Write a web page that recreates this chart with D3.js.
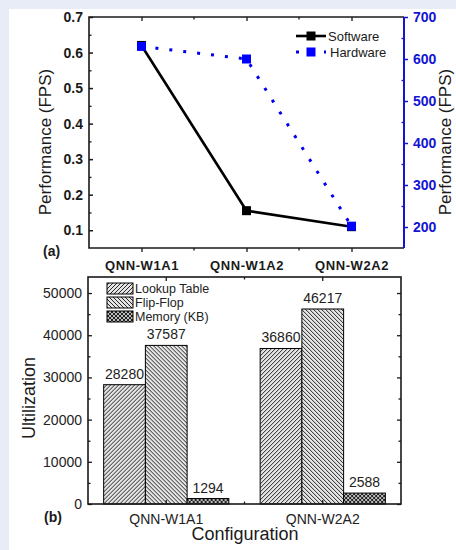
<!DOCTYPE html>
<html>
<head>
<meta charset="utf-8">
<script src="https://cdn.jsdelivr.net/npm/d3@7"></script>
<style>
  body { margin: 0; background: #e8ecf6; }
  svg { display: block; font-family: Arial, "Liberation Sans", sans-serif; }
</style>
</head>
<body>
<div id="chart"></div>
<script>
// ---- data ----
var configs = ["QNN-W1A1", "QNN-W1A2", "QNN-W2A2"];
var software = [0.62, 0.155, 0.11];   // FPS, left axis
var hardware = [630, 600, 202];       // FPS, right axis
var perfTicksL = [0.1, 0.2, 0.3, 0.4, 0.5, 0.6, 0.7];
var perfTicksR = [200, 300, 400, 500, 600, 700];

var utilConfigs = ["QNN-W1A1", "QNN-W2A2"];
var utilSeries = ["Lookup Table", "Flip-Flop", "Memory (KB)"];
var lookupTable = [28280, 36860];
var flipFlop = [37587, 46217];
var memoryKB = [1294, 2588];
var utilTicks = [0, 10000, 20000, 30000, 40000, 50000];

var w = 456, h = 550;
var ink = "#1a1a1a", blue = "#1414d2";

var svg = d3.select("#chart").append("svg")
  .attr("width", w)
  .attr("height", h);

// white panel (light frame on top / left)
svg.append("rect").attr("x", 9).attr("y", 9).attr("width", w - 9).attr("height", h - 9).attr("fill", "#fff");

// hatch patterns for the bars
var defs = svg.append("defs");
function hatch(id, d, bg) {
  var p = defs.append("pattern").attr("id", id)
    .attr("patternUnits", "userSpaceOnUse").attr("width", 4).attr("height", 4);
  p.append("rect").attr("width", 4).attr("height", 4).attr("fill", bg);
  p.append("path").attr("d", d).attr("stroke", "#111").attr("stroke-width", 0.9).attr("fill", "none");
}
hatch("lut", "M-1,1 l2,-2 M0,4 l4,-4 M3,5 l2,-2", "#e4e4e4");
hatch("ff", "M-1,3 l2,2 M0,0 l4,4 M3,-1 l2,2", "#e4e4e4");
hatch("mem", "M0,0 l4,4 M4,0 l-4,4 M-1,1 l2,-2 M3,5 l2,-2", "#bbb");
var patterns = ["url(#lut)", "url(#ff)", "url(#mem)"];

// ================= (a) performance =================
var a = {left: 89, right: 404, top: 17, bottom: 248};

var x = d3.scalePoint().domain(configs).range([a.left, a.right]).padding(0.5);
var yL = d3.scaleLinear().domain([0.05, 0.7]).range([a.bottom, a.top]);
var yR = d3.scaleLinear().domain([150, 700]).range([a.bottom, a.top]);

var gA = svg.append("g");

// left axis, ticks inward
gA.append("g").attr("transform", "translate(" + a.left + ",0)")
  .call(d3.axisLeft(yL).tickValues(perfTicksL).tickSize(-4).tickPadding(6).tickFormat(d3.format(".1f")))
  .call(function(g) { g.select(".domain").remove(); })
  .call(function(g) {
    g.selectAll("line").attr("stroke", ink).attr("stroke-width", 1.5);
    g.selectAll("text").attr("fill", ink).attr("font-size", 14).attr("font-weight", "bold").attr("font-family", "Arial, sans-serif");
  });
gA.append("g").attr("transform", "translate(" + a.left + ",0)")
  .call(d3.axisLeft(yL).tickValues([0.15, 0.25, 0.35, 0.45, 0.55, 0.65]).tickSize(-2.5).tickFormat(""))
  .call(function(g) { g.select(".domain").remove(); g.selectAll("line").attr("stroke", ink).attr("stroke-width", 1.3); });

// right axis in blue
gA.append("g").attr("transform", "translate(" + a.right + ",0)")
  .call(d3.axisRight(yR).tickValues(perfTicksR).tickSize(4).tickPadding(5))
  .call(function(g) { g.select(".domain").remove(); })
  .call(function(g) {
    g.selectAll("line").attr("stroke", blue).attr("stroke-width", 1.5);
    g.selectAll("text").attr("fill", blue).attr("font-size", 14).attr("font-weight", "bold").attr("font-family", "Arial, sans-serif");
  });
gA.append("g").attr("transform", "translate(" + a.right + ",0)")
  .call(d3.axisRight(yR).tickValues([250, 350, 450, 550, 650]).tickSize(-2.5).tickFormat(""))
  .call(function(g) { g.select(".domain").remove(); g.selectAll("line").attr("stroke", blue).attr("stroke-width", 1.3); });

// bottom axis
gA.append("g").attr("transform", "translate(0," + a.bottom + ")")
  .call(d3.axisBottom(x).tickSize(4).tickPadding(9))
  .call(function(g) { g.select(".domain").remove(); })
  .call(function(g) {
    g.selectAll("line").attr("stroke", ink).attr("stroke-width", 1.3);
    g.selectAll("text").attr("fill", ink).attr("font-size", 13).attr("font-weight", "bold")
      .attr("letter-spacing", "0.6px").attr("font-family", "Arial, sans-serif");
  });
// top ticks inward
gA.append("g").attr("transform", "translate(0," + a.top + ")")
  .call(d3.axisTop(x).tickSize(-4).tickFormat(""))
  .call(function(g) { g.select(".domain").remove(); g.selectAll("line").attr("stroke", ink).attr("stroke-width", 1.3); });

// minor ticks between categories
var mids = configs.slice(1).map(function(c, i) { return (x(configs[i]) + x(c)) / 2; });
gA.selectAll(".midb").data(mids).enter().append("line")
  .attr("x1", function(d) { return d; }).attr("x2", function(d) { return d; })
  .attr("y1", a.bottom).attr("y2", a.bottom + 2.5).attr("stroke", ink).attr("stroke-width", 1.3);
gA.selectAll(".midt").data(mids).enter().append("line")
  .attr("x1", function(d) { return d; }).attr("x2", function(d) { return d; })
  .attr("y1", a.top).attr("y2", a.top + 2.5).attr("stroke", ink).attr("stroke-width", 1.3);

// frame
gA.append("path").attr("d", "M" + a.right + "," + a.top + "H" + a.left + "V" + a.bottom + "H" + a.right)
  .attr("fill", "none").attr("stroke", ink).attr("stroke-width", 1.6);
gA.append("line").attr("x1", a.right).attr("x2", a.right).attr("y1", a.top).attr("y2", a.bottom)
  .attr("stroke", blue).attr("stroke-width", 2);

// software series
var swLine = d3.line().x(function(d, i) { return x(configs[i]); }).y(function(d) { return yL(d); });
gA.append("path").datum(software).attr("d", swLine)
  .attr("fill", "none").attr("stroke", "#000").attr("stroke-width", 2.6);
gA.selectAll(".sw").data(software).enter().append("rect")
  .attr("x", function(d, i) { return x(configs[i]) - 4.5; })
  .attr("y", function(d) { return yL(d) - 4.5; })
  .attr("width", 9).attr("height", 9).attr("fill", "#000");

// hardware series
var hwLine = d3.line().x(function(d, i) { return x(configs[i]); }).y(function(d) { return yR(d); });
gA.append("path").datum(hardware).attr("d", hwLine)
  .attr("fill", "none").attr("stroke", "#0000ee").attr("stroke-width", 3).attr("stroke-dasharray", "3,11");
gA.selectAll(".hw").data(hardware).enter().append("rect")
  .attr("x", function(d, i) { return x(configs[i]) - 4.5; })
  .attr("y", function(d) { return yR(d) - 4.5; })
  .attr("width", 9).attr("height", 9).attr("fill", "#0000ff");

// legend
var lg = gA.append("g").attr("font-size", 13).attr("fill", ink);
lg.append("line").attr("x1", 296).attr("x2", 326).attr("y1", 36).attr("y2", 36).attr("stroke", "#000").attr("stroke-width", 2.6);
lg.append("rect").attr("x", 306.5).attr("y", 31.5).attr("width", 9).attr("height", 9).attr("fill", "#000");
lg.append("text").attr("x", 328).attr("y", 40.5).text("Software");
lg.append("line").attr("x1", 296).attr("x2", 326).attr("y1", 52).attr("y2", 52).attr("stroke", "#0000ee")
  .attr("stroke-width", 3).attr("stroke-dasharray", "3,11");
lg.append("rect").attr("x", 306.5).attr("y", 47.5).attr("width", 9).attr("height", 9).attr("fill", "#0000ff");
lg.append("text").attr("x", 330).attr("y", 56.5).text("Hardware");

// titles
gA.append("text").attr("transform", "translate(51,142) rotate(-90)").attr("text-anchor", "middle")
  .attr("font-size", 17).attr("fill", ink).text("Performance (FPS)");
gA.append("text").attr("transform", "translate(451,142) rotate(-90)").attr("text-anchor", "middle")
  .attr("font-size", 17).attr("fill", ink).text("Performance (FPS)");
gA.append("text").attr("x", 43).attr("y", 256).attr("font-size", 14).attr("font-weight", "bold").attr("fill", ink).text("(a)");

// ================= (b) utilization =================
var b = {left: 88, right: 401, top: 277, bottom: 504};

var xb = d3.scaleBand().domain(utilConfigs).range([b.left, b.right]).paddingInner(0.2).paddingOuter(0.1);
var xs = d3.scaleBand().domain(utilSeries).range([0, xb.bandwidth()]);
var yb = d3.scaleLinear().domain([0, 53800]).range([b.bottom, b.top]);

var gB = svg.append("g");

var rows = utilConfigs.map(function(c, i) {
  return {config: c, values: [lookupTable[i], flipFlop[i], memoryKB[i]]};
});

var groups = gB.selectAll(".grp").data(rows).enter().append("g")
  .attr("transform", function(d) { return "translate(" + xb(d.config) + ",0)"; });
groups.selectAll("rect").data(function(d) { return d.values; }).enter().append("rect")
  .attr("x", function(d, i) { return xs(utilSeries[i]); })
  .attr("y", function(d) { return yb(d); })
  .attr("width", xs.bandwidth())
  .attr("height", function(d) { return b.bottom - yb(d); })
  .attr("fill", function(d, i) { return patterns[i]; })
  .attr("stroke", "#000").attr("stroke-width", 1);
groups.selectAll("text").data(function(d) { return d.values; }).enter().append("text")
  .attr("x", function(d, i) { return xs(utilSeries[i]) + xs.bandwidth() / 2; })
  .attr("y", function(d) { return yb(d) - 6; })
  .attr("text-anchor", "middle").attr("font-size", 14).attr("fill", "#222")
  .text(function(d) { return d; });

// axes
gB.append("g").attr("transform", "translate(" + b.left + ",0)")
  .call(d3.axisLeft(yb).tickValues(utilTicks).tickSize(-4).tickPadding(6).tickFormat(d3.format("d")))
  .call(function(g) { g.select(".domain").remove(); })
  .call(function(g) {
    g.selectAll("line").attr("stroke", ink).attr("stroke-width", 1.3);
    g.selectAll("text").attr("fill", "#222").attr("font-size", 14).attr("font-family", "Arial, sans-serif");
  });
gB.append("g").attr("transform", "translate(" + b.left + ",0)")
  .call(d3.axisLeft(yb).tickValues([5000, 15000, 25000, 35000, 45000]).tickSize(-2.5).tickFormat(""))
  .call(function(g) { g.select(".domain").remove(); g.selectAll("line").attr("stroke", ink).attr("stroke-width", 1.3); });
gB.append("g").attr("transform", "translate(" + b.right + ",0)")
  .call(d3.axisRight(yb).tickValues(utilTicks).tickSize(-4).tickFormat(""))
  .call(function(g) { g.select(".domain").remove(); g.selectAll("line").attr("stroke", ink).attr("stroke-width", 1.3); });
gB.append("g").attr("transform", "translate(" + b.right + ",0)")
  .call(d3.axisRight(yb).tickValues([5000, 15000, 25000, 35000, 45000]).tickSize(-2.5).tickFormat(""))
  .call(function(g) { g.select(".domain").remove(); g.selectAll("line").attr("stroke", ink).attr("stroke-width", 1.3); });

gB.append("g").attr("transform", "translate(0," + b.bottom + ")")
  .call(d3.axisBottom(xb).tickSize(-4).tickPadding(10))
  .call(function(g) { g.select(".domain").remove(); })
  .call(function(g) {
    g.selectAll("line").attr("stroke", ink).attr("stroke-width", 1.3);
    g.selectAll("text").attr("fill", "#222").attr("font-size", 14).attr("font-family", "Arial, sans-serif");
  });
gB.append("g").attr("transform", "translate(0," + b.top + ")")
  .call(d3.axisTop(xb).tickSize(-4).tickFormat(""))
  .call(function(g) { g.select(".domain").remove(); g.selectAll("line").attr("stroke", ink).attr("stroke-width", 1.3); });

var midB = xb.range()[0] + xb.step() * (1 + xb.paddingOuter()) - xb.step() * xb.paddingInner() / 2;
gB.append("line").attr("x1", midB).attr("x2", midB).attr("y1", b.bottom).attr("y2", b.bottom - 2.5).attr("stroke", ink).attr("stroke-width", 1.3);
gB.append("line").attr("x1", midB).attr("x2", midB).attr("y1", b.top).attr("y2", b.top + 2.5).attr("stroke", ink).attr("stroke-width", 1.3);

gB.append("rect").attr("x", b.left).attr("y", b.top).attr("width", b.right - b.left).attr("height", b.bottom - b.top)
  .attr("fill", "none").attr("stroke", ink).attr("stroke-width", 1.6);

// legend
var lb = gB.append("g");
utilSeries.forEach(function(s, i) {
  var yy = 283 + i * 14;
  lb.append("rect").attr("x", 107).attr("y", yy).attr("width", 26).attr("height", 11)
    .attr("fill", patterns[i]).attr("stroke", "#000").attr("stroke-width", 1);
  lb.append("text").attr("x", 135).attr("y", yy + 9.5).attr("font-size", 12.5).attr("fill", "#222").text(s);
});

// titles
gB.append("text").attr("transform", "translate(35,398) rotate(-90)").attr("text-anchor", "middle")
  .attr("font-size", 18).attr("fill", ink).text("Ultilization");
gB.append("text").attr("x", 245).attr("y", 540).attr("text-anchor", "middle")
  .attr("font-size", 18).attr("fill", ink).text("Configuration");
gB.append("text").attr("x", 44).attr("y", 522).attr("font-size", 14).attr("font-weight", "bold").attr("fill", ink).text("(b)");
</script>
</body>
</html>
